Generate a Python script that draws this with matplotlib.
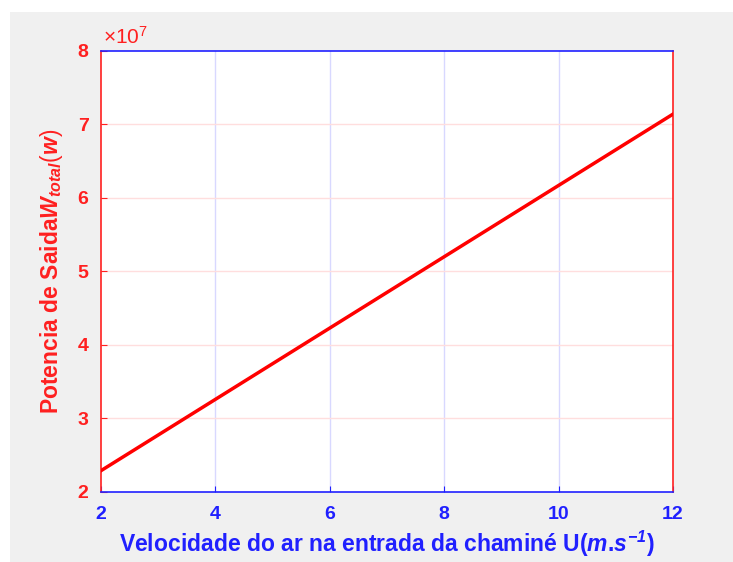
import matplotlib.pyplot as plt
from matplotlib.patches import Rectangle

# velocity (m/s) vs total output power (W)
velocidade = [2, 4, 6, 8, 10, 12]
potencia = [2.29e7, 3.26e7, 4.23e7, 5.20e7, 6.17e7, 7.14e7]

xticks = [2, 4, 6, 8, 10, 12]
yticks = [2e7, 3e7, 4e7, 5e7, 6e7, 7e7, 8e7]
ytick_labels = ['2', '3', '4', '5', '6', '7', '8']

plt.rcParams['font.family'] = 'Liberation Sans'
plt.rcParams['mathtext.fontset'] = 'custom'
plt.rcParams['mathtext.it'] = 'Liberation Sans:italic:bold'
plt.rcParams['mathtext.bf'] = 'Liberation Sans:italic:bold'
plt.rcParams['mathtext.rm'] = 'Liberation Sans'

red = '#ff2020'
blue = '#2020ff'

fig = plt.figure(figsize=(7.33, 5.62), dpi=100, facecolor='white')
fig.patches.append(Rectangle((10 / 733, 0), 1, 1 - 12 / 562, transform=fig.transFigure,
                             facecolor='#f0f0f0', edgecolor='none', zorder=-10))
ax = fig.add_axes([0.1378, 0.1246, 0.918 - 0.1378, 0.9093 - 0.1246])

ax.plot(velocidade, potencia, color='#ff0000', lw=2.5, zorder=3)

ax.set_xlim(2, 12)
ax.set_ylim(2e7, 8e7)
ax.set_xticks(xticks)
ax.set_yticks(yticks)
ax.set_yticklabels(ytick_labels)

for xv in xticks[1:-1]:
    ax.axvline(xv, color='#d8d8ff', lw=1, zorder=1)
for yv in yticks[1:-1]:
    ax.axhline(yv, color='#ffdede', lw=1, zorder=1)

ax.spines['left'].set_color(red)
ax.spines['right'].set_color(red)
ax.spines['top'].set_color(blue)
ax.spines['bottom'].set_color(blue)
for s in ax.spines.values():
    s.set_linewidth(1.2)

ax.tick_params(axis='x', colors=blue, direction='in', length=4, labelsize=14, pad=10)
ax.tick_params(axis='y', colors=red, direction='in', length=4, labelsize=14, pad=9)
for lbl in ax.get_xticklabels() + ax.get_yticklabels():
    lbl.set_fontweight('bold')

ax.text(0.003, 1.008, r'$\times$10$^{7}$', transform=ax.transAxes, color=red,
        fontsize=15, ha='left', va='bottom')

ax.set_xlabel(r'Velocidade do ar na entrada da chaminé U($m$.$s^{\mathbf{-1}}$)',
              color=blue, fontsize=16.5, fontweight='bold', labelpad=4)
ax.set_ylabel(r'Potencia de Saida$W_{total}(w)$',
              color=red, fontsize=16.5, fontweight='bold', labelpad=9)

fig.savefig('out.png', dpi=100)
